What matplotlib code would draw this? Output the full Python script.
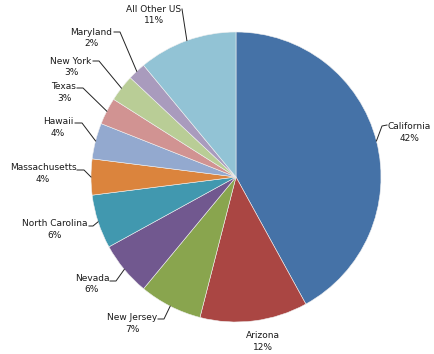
import matplotlib
matplotlib.use("Agg")
import matplotlib.pyplot as plt
import numpy as np

# ---- data ----
states = ["California", "Arizona", "New Jersey", "Nevada", "North Carolina",
          "Massachusetts", "Hawaii", "Texas", "New York", "Maryland", "All Other US"]
shares = [42, 12, 7, 6, 6, 4, 4, 3, 3, 2, 11]

# ---- styles / layout ----
colors = ["#4572A7", "#AA4643", "#89A54E", "#71588F", "#4198AF", "#DB843D",
          "#93A9CF", "#D19392", "#B9CD96", "#A99BBD", "#92C3D5"]

W, H = 434, 354
CX, CY, R = 236, 177, 145  # pixel centre / radius

# label block centres (pixels) and leader paths (pixels, ending at the slice edge)
label_pos = {
    "California": (409, 132.5), "Arizona": (263, 341.5), "New Jersey": (132, 323.5),
    "Nevada": (92, 284), "North Carolina": (55, 229.5), "Massachusetts": (43, 173.5),
    "Hawaii": (58, 127.5), "Texas": (64, 92.5), "New York": (71, 67),
    "Maryland": (91, 38), "All Other US": (154, 15),
}
leader_pts = {
    "California": [(387, 125), (382, 126)], "Arizona": None,
    "New Jersey": [(158, 319), (164, 319)], "Nevada": [(110, 281), (116, 281)],
    "North Carolina": [(89, 226), (93, 226)], "Massachusetts": [(77, 170), (84, 170)],
    "Hawaii": [(75, 123), (82, 123)], "Texas": [(77, 88), (83, 88)],
    "New York": [(93, 61), (99, 61)], "Maryland": [(114, 32), (120, 32)],
    "All Other US": [(182, 9)],
}

def px(p):
    return ((p[0] - CX) / R, (CY - p[1]) / R)

fig = plt.figure(figsize=(W / 100, H / 100), dpi=100)
ax = fig.add_axes([0, 0, 1, 1])

ax.pie(shares, colors=colors, startangle=90, counterclock=False, radius=1,
       center=(0, 0), wedgeprops=dict(edgecolor="#f0f0f0", linewidth=0.4),
       frame=True)
ax.set_xlim(-CX / R, (W - CX) / R)
ax.set_ylim(-(H - CY) / R, CY / R)
ax.axis("off")

total = sum(shares)
cum = 0
for name, v in zip(states, shares):
    mid = (cum + v / 2) / total * 2 * np.pi
    cum += v
    edge = (np.sin(mid), np.cos(mid))
    tx, ty = px(label_pos[name])
    ax.text(tx, ty, f"{name}\n{v}%", ha="center", va="center", multialignment="center",
            fontsize=6.5, color="#1a1a1a", linespacing=1.3, family="DejaVu Sans")
    if leader_pts[name]:
        pts = [px(p) for p in leader_pts[name]] + [edge]
        xs, ys = zip(*pts)
        ax.plot(xs, ys, color="#222222", lw=0.7)

fig.savefig("out.png", dpi=100)
